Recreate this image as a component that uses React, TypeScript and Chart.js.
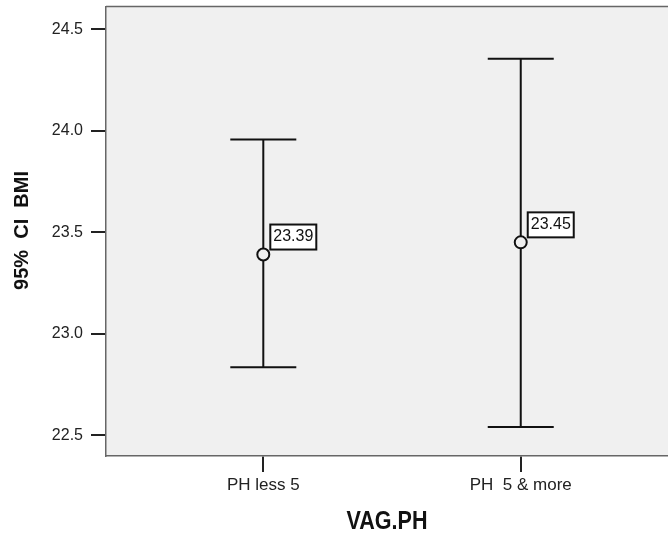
import React, { useEffect, useRef } from "react";
import { Chart, registerables } from "chart.js";

Chart.register(...registerables);

const categories = ["PH less 5", "PH  5 & more"];
const means = [23.39, 23.45];
const lower = [22.835, 22.54];
const upper = [23.957, 24.355];
const yTicks = [22.5, 23.0, 23.5, 24.0, 24.5];
const xTitle = "VAG.PH";
const yTitle = "95%  CI  BMI";

const FONT = "'Liberation Sans', Arial, sans-serif";

const ciPlugin = {
  id: "ciPlugin",
  beforeDraw(chart: any) {
    const { ctx, chartArea: a } = chart;
    ctx.save();
    ctx.fillStyle = "#f0f0f0";
    ctx.fillRect(a.left, a.top, a.right - a.left, a.bottom - a.top);
    ctx.restore();
  },
  beforeDatasetsDraw(chart: any) {
    const { ctx } = chart;
    const xs = chart.scales.x;
    const ys = chart.scales.y;
    const capHalf = 33;
    ctx.save();
    ctx.strokeStyle = "#111";
    ctx.lineWidth = 2;
    categories.forEach((_, i) => {
      const x = xs.getPixelForValue(i + 1);
      const yl = ys.getPixelForValue(lower[i]);
      const yu = ys.getPixelForValue(upper[i]);
      ctx.beginPath();
      ctx.moveTo(x, yu);
      ctx.lineTo(x, yl);
      ctx.moveTo(x - capHalf, yu);
      ctx.lineTo(x + capHalf, yu);
      ctx.moveTo(x - capHalf, yl);
      ctx.lineTo(x + capHalf, yl);
      ctx.stroke();
    });
    ctx.restore();
  },
  afterDatasetsDraw(chart: any) {
    const { ctx } = chart;
    const xs = chart.scales.x;
    const ys = chart.scales.y;
    ctx.save();
    means.forEach((m, i) => {
      const x = xs.getPixelForValue(i + 1);
      const y = ys.getPixelForValue(m);
      const bx = x + 7;
      const by = y - 30;
      const bw = 46;
      const bh = 25;
      ctx.fillStyle = "#ffffff";
      ctx.fillRect(bx, by, bw, bh);
      ctx.strokeStyle = "#111";
      ctx.lineWidth = 2;
      ctx.strokeRect(bx, by, bw, bh);
      ctx.fillStyle = "#111";
      ctx.font = `16px ${FONT}`;
      ctx.textAlign = "left";
      ctx.textBaseline = "alphabetic";
      ctx.fillText(m.toFixed(2), bx + 3, by + 16.5);
    });
    ctx.restore();
  },
  afterDraw(chart: any) {
    const { ctx, chartArea: a } = chart;
    ctx.save();
    ctx.strokeStyle = "#666";
    ctx.lineWidth = 1.5;
    ctx.beginPath();
    ctx.moveTo(a.left, a.top);
    ctx.lineTo(a.right, a.top);
    ctx.stroke();

    ctx.fillStyle = "#111";
    ctx.font = `bold 26px ${FONT}`;
    ctx.textAlign = "center";
    ctx.textBaseline = "alphabetic";
    const w = ctx.measureText(xTitle).width;
    const sx = 81 / w;
    ctx.save();
    ctx.translate(387, 529);
    ctx.scale(sx, 1);
    ctx.fillText(xTitle, 0, 0);
    ctx.restore();

    ctx.save();
    ctx.font = `bold 20px ${FONT}`;
    ctx.translate(27.5, 230.5);
    ctx.rotate(-Math.PI / 2);
    ctx.textAlign = "center";
    ctx.textBaseline = "alphabetic";
    ctx.fillText(yTitle, 0, 0);
    ctx.restore();
    ctx.restore();
  },
};

export default function App() {
  const ref = useRef<HTMLCanvasElement | null>(null);

  useEffect(() => {
    document.body.style.margin = "0";
    const canvas = ref.current;
    if (!canvas) return;
    const chart = new Chart(canvas, {
      type: "scatter",
      data: {
        datasets: [
          {
            data: means.map((m, i) => ({ x: i + 1, y: m })),
            pointStyle: "circle",
            pointRadius: 6,
            pointHoverRadius: 6,
            pointBorderWidth: 2,
            borderColor: "#111",
            backgroundColor: "#f0f0f0",
            showLine: false,
          },
        ],
      },
      options: {
        responsive: false,
        animation: false,
        devicePixelRatio: 1,
        layout: { autoPadding: false, padding: { top: 6.5, right: 0, bottom: 0, left: 0 } },
        plugins: {
          legend: { display: false },
          tooltip: { enabled: false },
        },
        scales: {
          x: {
            type: "linear",
            min: 0.389,
            max: 2.572,
            afterBuildTicks: (scale: any) => {
              scale.ticks = categories.map((_, i) => ({ value: i + 1 }));
            },
            afterFit: (scale: any) => {
              scale.height = 79;
              scale.paddingLeft = 0;
              scale.paddingRight = 0;
              scale.paddingTop = 0;
              scale.paddingBottom = 0;
            },
            ticks: {
              autoSkip: false,
              maxRotation: 0,
              padding: 3,
              color: "#222",
              font: { family: FONT, size: 17 },
              callback: (v: any) => categories[Math.round(Number(v)) - 1] ?? "",
            },
            grid: {
              display: true,
              drawOnChartArea: false,
              drawTicks: true,
              tickLength: 16,
              color: "#222",
              lineWidth: 2,
            },
            border: { display: true, color: "#666", width: 1.5 },
          },
          y: {
            type: "linear",
            min: 22.397,
            max: 24.6125,
            afterBuildTicks: (scale: any) => {
              scale.ticks = yTicks.map((v) => ({ value: v }));
            },
            afterFit: (scale: any) => {
              scale.width = 106;
              scale.paddingLeft = 0;
              scale.paddingRight = 0;
              scale.paddingTop = 0;
              scale.paddingBottom = 0;
            },
            ticks: {
              autoSkip: false,
              padding: 8,
              color: "#222",
              font: { family: FONT, size: 16 },
              callback: (v: any) => Number(v).toFixed(1),
            },
            grid: {
              display: true,
              drawOnChartArea: false,
              drawTicks: true,
              tickLength: 15,
              color: "#222",
              lineWidth: 2,
            },
            border: { display: true, color: "#666", width: 1.5 },
          },
        },
      },
      plugins: [ciPlugin],
    });
    return () => chart.destroy();
  }, []);

  return (
    <div style={{ width: 668, height: 535, background: "#fff" }}>
      <canvas ref={ref} width={668} height={535} style={{ display: "block" }} />
    </div>
  );
}
